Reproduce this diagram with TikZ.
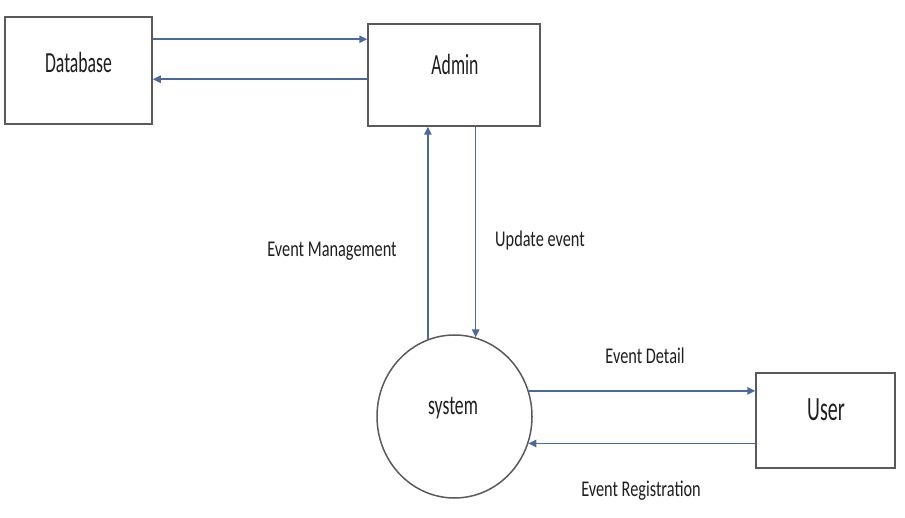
\documentclass[tikz,border=0pt]{standalone}
\usepackage{fontspec}
\setmainfont{Carlito}
\usetikzlibrary{arrows.meta,shapes.geometric}
\definecolor{arrowc}{HTML}{4A6A9E}
\definecolor{boxc}{HTML}{5A5A5A}
\definecolor{txtc}{HTML}{1E1E1E}
\newcommand{\vstretch}[2]{\scalebox{1}[#1]{#2}}
\begin{document}
\begin{tikzpicture}[x=1pt,y=-1pt,
  box/.style={draw=boxc,line width=1.5pt,rectangle,inner sep=0pt},
  proc/.style={draw=boxc,line width=1.5pt,ellipse,inner sep=0pt,minimum width=155pt,minimum height=163pt},
  arr/.style={draw=arrowc,line width=1.5pt,-{Triangle[length=8pt,width=7.5pt]}},
  biglbl/.style={text=txtc,inner sep=0pt,font=\fontsize{17.7pt}{20pt}\selectfont},
  smalllbl/.style={text=txtc,inner sep=0pt,font=\fontsize{16.3pt}{18pt}\selectfont}]
\useasboundingbox[fill=white] (0,0) rectangle (905,518);
% boxes
\node[box,minimum width=147pt,minimum height=107pt] (db) at (78.5,70.5) {};
\node[box,minimum width=172pt,minimum height=102pt] (admin) at (454,75) {};
\node[proc] (sys) at (454.5,416.5) {};
\node[box,minimum width=139pt,minimum height=95pt] (user) at (825.5,420.5) {};
% box texts
\node[biglbl] (dbt) at (78.5,62) {\vstretch{1.65}{Database}};
\node[biglbl] (admint) at (455,64) {\vstretch{1.65}{Admin}};
\node[biglbl] (syst) at (453,408) {\vstretch{1.55}{system}};
\node[biglbl,font=\fontsize{20pt}{22pt}\selectfont] (usert) at (826,410) {\vstretch{1.7}{User}};
% connectors
\path ([yshift=-23pt]db.north east) coordinate (a1);
\draw[arr] (a1) -- (a1 -| admin.west);
\path ([yshift=-56pt]admin.north west) coordinate (a2);
\draw[arr] (a2) -- (a2 -| db.east);
\draw[arr] (sys.109.1) -- (sys.109.1 |- admin.south);
\draw[arr] (sys.75.4 |- admin.south) -- (sys.75.4);
\draw[arr] (sys.19.1) -- (sys.19.1 -| user.west);
\draw[arr] (sys.-20.1 -| user.west) -- (sys.-20.1);
% labels
\node[smalllbl] (l1) at (332,251) {\vstretch{1.38}{Event Management}};
\node[smalllbl] (l2) at (540,241) {\vstretch{1.38}{Update event}};
\node[smalllbl] (l3) at (645,356) {\vstretch{1.38}{Event Detail}};
\node[smalllbl] (l4) at (641,491) {\vstretch{1.38}{Event Registration}};
\end{tikzpicture}
\end{document}
